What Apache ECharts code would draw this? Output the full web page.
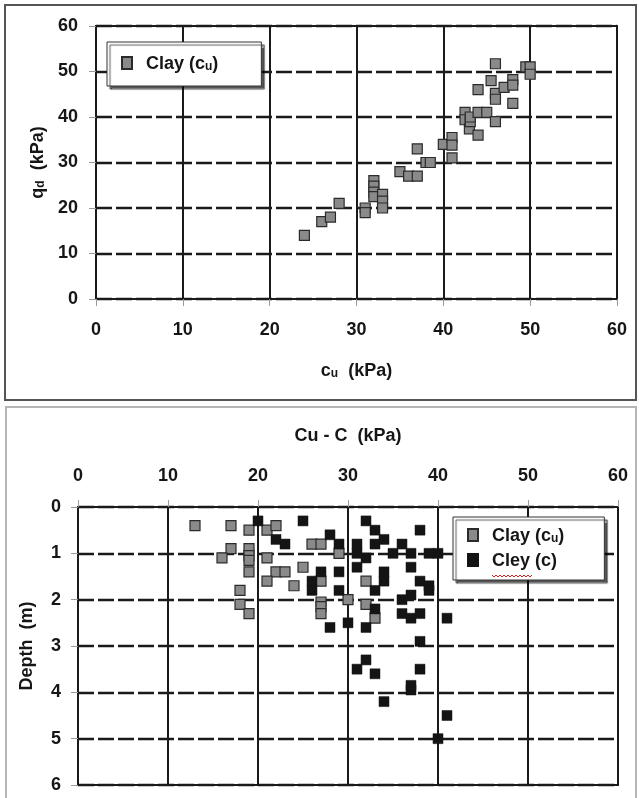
<!DOCTYPE html>
<html>
<head>
<meta charset="utf-8">
<script src="https://cdn.jsdelivr.net/npm/echarts@6/dist/echarts.min.js"></script>
<style>
html,body{margin:0;padding:0;background:#fff;}
#chart{width:639px;height:798px;}
</style>
</head>
<body>
<div id="chart"></div>
<script>
// ---- Top chart: qd vs cu ----
var topCu = [24,26,27,28,31,31,32,32,32,32,33,33,33,35,36,37,37,38,38.5,40,41,41,41,42.5,42.5,43,43.1,43.1,44,44,45,44,45.5,46,46,46,46,47,48,48,48,49.5,50,50];
var topQd = [14,17,18,21,20,19,26,24.8,23.5,22.5,23,21.5,20,28,27,27,33,30,30,34,35.5,33.8,31,41,39.4,37.4,39,40,36,41,41,46,48,51.7,45.2,43.9,39,46.5,48.2,47,43,51,51,49.4];

// ---- Bottom chart: depth profile ----
var clayCu    = [13,17,19,21,22,17,16,19,19,19,21,19,22,23,21,24,25,18,18,19,26,27,29,27,27,27,27,30,32,32,33];
var clayDepth = [0.4,0.4,0.5,0.5,0.4,0.9,1.1,0.9,1.05,1.15,1.1,1.4,1.4,1.4,1.6,1.7,1.3,1.8,2.1,2.3,0.8,0.8,1.0,1.6,2.05,2.15,2.3,2.0,1.6,2.1,2.4];
var cleyC     = [20,22,23,25,28,29,26,26,27,29,29,28,30,32,31,31,32,32,33,34,33,31,34,34,33,33,35,36,37,38,39,40,37,38,39,39,37,36,36,37,38,41,38,32,31,33,38,37,37,34,41,40];
var cleyDepth = [0.3,0.7,0.8,0.3,0.6,0.8,1.6,1.8,1.4,1.4,1.8,2.6,2.5,2.6,0.8,1.0,0.3,1.1,0.5,0.7,0.8,1.3,1.4,1.6,1.8,2.2,1.0,0.8,1.0,0.5,1.0,1.0,1.3,1.6,1.7,1.8,1.9,2.0,2.3,2.4,2.3,2.4,2.9,3.3,3.5,3.6,3.5,3.85,3.95,4.2,4.5,5.0];

var xTicks = ['0','10','20','30','40','50','60'];

function pairs(a, b) { return a.map(function (v, i) { return [v, b[i]]; }); }

var FONT = '"Liberation Sans", Arial, sans-serif';
var TXT = '#161616';
var rich = {
  n: { fontSize: 18, fontWeight: 'bold', fontFamily: FONT, color: TXT, lineHeight: 20, verticalAlign: 'bottom' },
  s: { fontSize: 12, fontWeight: 'bold', fontFamily: FONT, color: TXT, lineHeight: 13, verticalAlign: 'bottom' }
};

function axisCommon() {
  return {
    axisLine: { show: true, onZero: false, lineStyle: { color: '#1a1a1a', width: 2 } },
    axisTick: { show: true, length: 7, lineStyle: { color: '#9a9a9a', width: 1 } },
    axisLabel: { fontSize: 18, fontWeight: 'bold', fontFamily: FONT, color: TXT },
    nameTextStyle: { rich: rich }
  };
}

var chart = echarts.init(document.getElementById('chart'), null, { renderer: 'canvas' });

var names = {
  topClay: '{n|Clay (c}{s|u}{n|)}',
  botClay: '{n|Clay (c}{s|u}{n|)}',
  botCley: '{n|Cley (c)}'
};

var option = {
  animation: false,
  backgroundColor: '#fff',
  grid: [
    { left: 96, top: 26, width: 521, height: 273, show: true, borderColor: '#1a1a1a', borderWidth: 2, backgroundColor: 'transparent' },
    { left: 78, top: 507, width: 540, height: 278, show: true, borderColor: '#1a1a1a', borderWidth: 2, backgroundColor: 'transparent' }
  ],
  xAxis: [
    Object.assign(axisCommon(), {
      gridIndex: 0, type: 'value', min: 0, max: 60, interval: 10,
      name: '{n|c}{s|u}{n|  (kPa)}', nameLocation: 'middle', nameGap: 61,
      axisLabel: { fontSize: 18, fontWeight: 'bold', fontFamily: FONT, color: TXT, margin: 22,
        formatter: function (v) { return xTicks[v / 10]; } },
      splitLine: { show: true, lineStyle: { color: '#1a1a1a', width: 2, type: 'solid' } }
    }),
    Object.assign(axisCommon(), {
      gridIndex: 1, type: 'value', min: 0, max: 60, interval: 10, position: 'top',
      name: '{n|Cu - C  (kPa)}', nameLocation: 'middle', nameGap: 62,
      axisLabel: { fontSize: 18, fontWeight: 'bold', fontFamily: FONT, color: TXT, margin: 22,
        formatter: function (v) { return xTicks[v / 10]; } },
      splitLine: { show: true, lineStyle: { color: '#1a1a1a', width: 2, type: 'solid' } }
    })
  ],
  yAxis: [
    Object.assign(axisCommon(), {
      gridIndex: 0, type: 'value', min: 0, max: 60, interval: 10,
      name: '{n|q}{s|d}{n|  (kPa)}', nameLocation: 'middle', nameGap: 49, nameRotate: 90,
      axisLabel: { fontSize: 18, fontWeight: 'bold', fontFamily: FONT, color: TXT, margin: 18 },
      splitLine: { show: true, lineStyle: { color: '#1a1a1a', width: 2.4, type: [16, 4] } }
    }),
    Object.assign(axisCommon(), {
      gridIndex: 1, type: 'value', min: 0, max: 6, interval: 1, inverse: true,
      name: '{n|Depth  (m)}', nameLocation: 'middle', nameGap: 42, nameRotate: 90,
      axisLabel: { fontSize: 18, fontWeight: 'bold', fontFamily: FONT, color: TXT, margin: 17 },
      splitLine: { show: true, lineStyle: { color: '#1a1a1a', width: 2.4, type: [16, 4] } }
    })
  ],
  legend: [
    {
      data: ['topClay'], left: 107, top: 42, orient: 'vertical',
      padding: [13, 43, 13, 14], itemWidth: 10, itemHeight: 12,
      backgroundColor: '#fff', borderColor: '#333', borderWidth: 1,
      shadowColor: 'rgba(0,0,0,0.65)', shadowOffsetX: 3, shadowOffsetY: 3, shadowBlur: 1,
      formatter: function (n) { return names[n]; },
      textStyle: { rich: rich, padding: [0, 0, 0, 9] },
      selectedMode: false
    },
    {
      data: ['botClay', 'botCley'], left: 453, top: 517, orient: 'vertical',
      padding: [10, 40, 10, 14], itemWidth: 10, itemHeight: 12, itemGap: 7,
      backgroundColor: '#fff', borderColor: '#333', borderWidth: 1,
      shadowColor: 'rgba(0,0,0,0.65)', shadowOffsetX: 3, shadowOffsetY: 3, shadowBlur: 1,
      formatter: function (n) { return names[n]; },
      textStyle: { rich: rich, padding: [0, 0, 0, 9] },
      selectedMode: false
    }
  ],
  series: [
    {
      name: 'topClay', type: 'scatter', xAxisIndex: 0, yAxisIndex: 0,
      symbol: 'rect', symbolSize: [10, 10],
      itemStyle: { color: '#8a8a8a', borderColor: '#2b2b2b', borderWidth: 1.2, opacity: 1 },
      data: pairs(topCu, topQd), z: 3
    },
    {
      name: 'botClay', type: 'scatter', xAxisIndex: 1, yAxisIndex: 1,
      symbol: 'rect', symbolSize: [10, 10],
      itemStyle: { color: '#8a8a8a', borderColor: '#2b2b2b', borderWidth: 1.2, opacity: 1 },
      data: pairs(clayCu, clayDepth), z: 3
    },
    {
      name: 'botCley', type: 'scatter', xAxisIndex: 1, yAxisIndex: 1,
      symbol: 'rect', symbolSize: [10, 10],
      itemStyle: { color: '#141414', borderColor: '#141414', borderWidth: 0.5, opacity: 1 },
      data: pairs(cleyC, cleyDepth), z: 4
    }
  ],
  graphic: [
    { type: 'rect', shape: { x: 5, y: 5, width: 631, height: 395 }, style: { fill: 'none', stroke: '#555', lineWidth: 2 }, z: -1, silent: true },
    { type: 'rect', shape: { x: 6, y: 407, width: 630, height: 400 }, style: { fill: 'none', stroke: '#b5b5b5', lineWidth: 2 }, z: -1, silent: true },
    { type: 'polyline', shape: { points: [[492,575],[494,577],[496,575],[498,577],[500,575],[502,577],[504,575],[506,577],[508,575],[510,577],[512,575],[514,577],[516,575],[518,577],[520,575],[522,577],[524,575],[526,577],[528,575],[530,577],[532,575]] },
      style: { fill: 'none', stroke: '#e02020', lineWidth: 1 }, z: 100, silent: true }
  ]
};
chart.setOption(option);
</script>
</body>
</html>
